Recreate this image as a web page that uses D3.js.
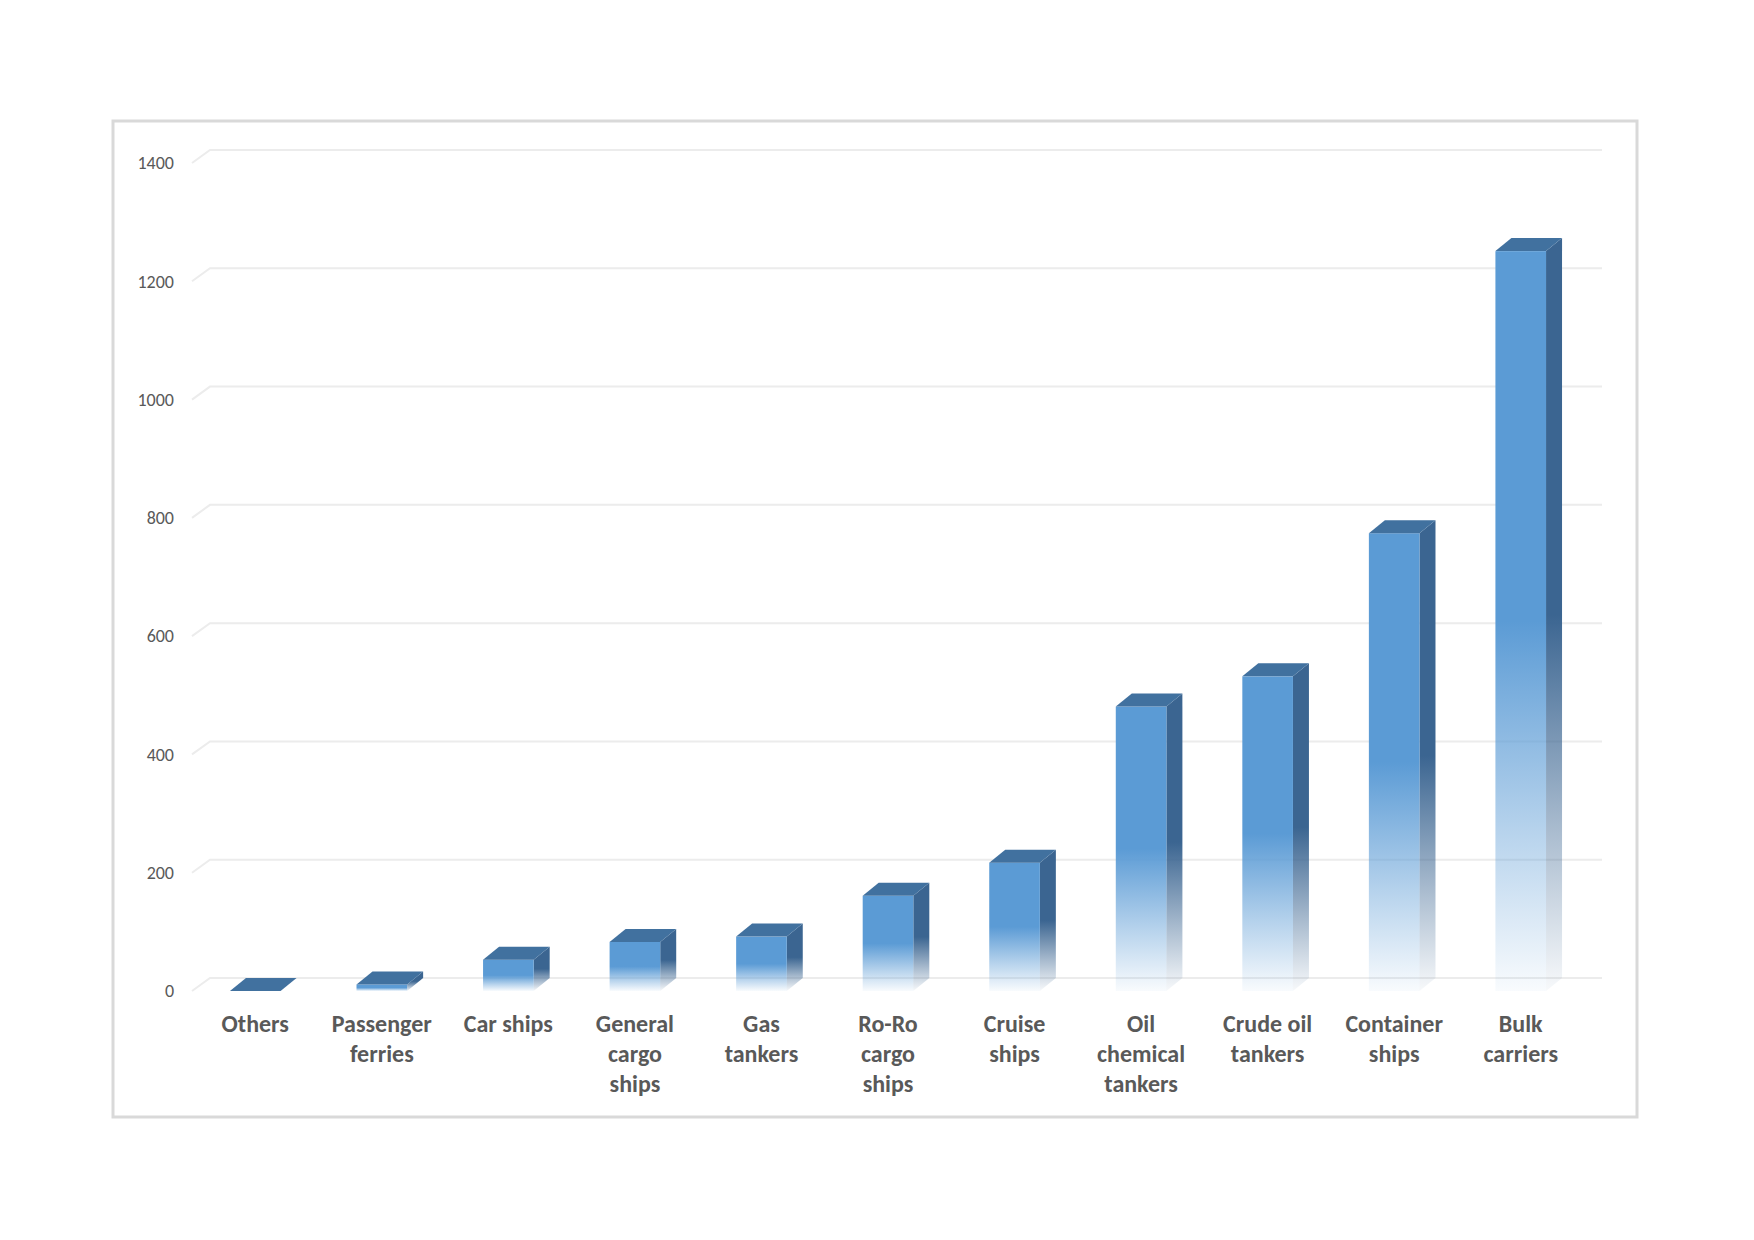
<!DOCTYPE html>
<html>
<head>
<meta charset="utf-8">
<script src="https://cdn.jsdelivr.net/npm/d3@7"></script>
<style>
  body { margin: 0; background: #fff; }
  svg text { font-family: Carlito, "Liberation Sans Narrow", "Open Sans", sans-serif; }
</style>
</head>
<body>
<div id="chart"></div>
<script>
const categories = ['Others', 'Passenger ferries', 'Car ships', 'General cargo ships', 'Gas tankers',
  'Ro-Ro cargo ships', 'Cruise ships', 'Oil chemical tankers', 'Crude oil tankers', 'Container ships', 'Bulk carriers']
const labelLines = [['Others'], ['Passenger', 'ferries'], ['Car ships'], ['General', 'cargo', 'ships'], ['Gas', 'tankers'],
  ['Ro-Ro', 'cargo', 'ships'], ['Cruise', 'ships'], ['Oil', 'chemical', 'tankers'], ['Crude oil', 'tankers'], ['Container', 'ships'], ['Bulk', 'carriers']]
const values = [0, 11, 53, 83, 92, 161, 217, 481, 532, 774, 1251]
const yTicks = [0, 200, 400, 600, 800, 1000, 1200, 1400]

const w = 1754
const h = 1240

// depth of the back wall and of the bars (pseudo 3D)
const wallDx = 18, wallDy = -13
const barDx = 16, barDy = -13

const svg = d3.select('#chart')
  .append('svg')
  .attr('width', w)
  .attr('height', h)

const defs = svg.append('defs')

const addFade = (id, color) => {
  const g = defs.append('linearGradient')
    .attr('id', id)
    .attr('x1', 0).attr('y1', 0).attr('x2', 0).attr('y2', 1)
  g.append('stop').attr('offset', '0%').attr('stop-color', color)
  g.append('stop').attr('offset', '50%').attr('stop-color', color)
  g.append('stop').attr('offset', '78%').attr('stop-color', color).attr('stop-opacity', 0.45)
  g.append('stop').attr('offset', '100%').attr('stop-color', color).attr('stop-opacity', 0.04)
}
addFade('frontFade', '#5b9bd5')
addFade('sideFade', '#3b6591')

// chart frame
svg.append('rect')
  .attr('x', 113)
  .attr('y', 121)
  .attr('width', 1524)
  .attr('height', 996)
  .attr('fill', 'none')
  .attr('stroke', '#d9d9d9')
  .attr('stroke-width', 3)

const xScale = d3.scaleBand()
  .domain(categories)
  .range([192, 1584])
  .paddingInner(0.6)
  .paddingOuter(0.3)

const yScale = d3.scaleLinear()
  .domain([0, 1400])
  .range([991, 163])

const x0 = xScale.range()[0]
const x1 = xScale.range()[1] + wallDx

// gridlines: short diagonal on the floor side and line along the back wall
svg.append('g')
  .selectAll('path')
  .data(yTicks)
  .enter()
  .append('path')
  .attr('d', (d) => {
    const y = yScale(d)
    return `M${x0},${y}L${x0 + wallDx},${y + wallDy}L${x1},${y + wallDy}`
  })
  .attr('fill', 'none')
  .attr('stroke', '#ececec')
  .attr('stroke-width', 2)

const yAxis = svg.append('g')
  .attr('id', 'y-axis')
  .attr('transform', 'translate(182,0)')
  .call(d3.axisLeft(yScale).tickValues(yTicks).tickSize(0).tickPadding(8).tickFormat(d3.format('d')))
yAxis.select('.domain').remove()
yAxis.selectAll('text')
  .attr('font-size', 18)
  .attr('fill', '#595959')
  .style('font-family', 'Carlito, "Liberation Sans Narrow", "Open Sans", sans-serif')

const bw = xScale.bandwidth()
const data = categories.map((c, i) => ({ name: c, value: values[i], lines: labelLines[i] }))

const bars = svg.append('g')
  .selectAll('g')
  .data(data)
  .enter()
  .append('g')
  .attr('class', 'bar')

// side face
bars.append('path')
  .attr('d', (d) => {
    const xl = xScale(d.name) + bw
    const yt = yScale(d.value)
    const yb = yScale(0)
    return `M${xl},${yt}L${xl + barDx},${yt + barDy}L${xl + barDx},${yb + barDy}L${xl},${yb}Z`
  })
  .attr('fill', 'url(#sideFade)')

// front face
bars.append('rect')
  .attr('x', (d) => xScale(d.name))
  .attr('y', (d) => yScale(d.value))
  .attr('width', bw)
  .attr('height', (d) => yScale(0) - yScale(d.value))
  .attr('fill', 'url(#frontFade)')

// top face
bars.append('path')
  .attr('d', (d) => {
    const xl = xScale(d.name)
    const yt = yScale(d.value)
    return `M${xl},${yt}L${xl + barDx},${yt + barDy}L${xl + bw + barDx},${yt + barDy}L${xl + bw},${yt}Z`
  })
  .attr('fill', '#41719f')

// category labels
const labels = svg.append('g')
  .attr('id', 'x-axis')
  .selectAll('text')
  .data(data)
  .enter()
  .append('text')
  .attr('x', (d) => xScale(d.name) + bw / 2)
  .attr('y', 1032)
  .attr('text-anchor', 'middle')
  .attr('font-size', 24)
  .attr('font-weight', 'bold')
  .attr('fill', '#595959')

labels.selectAll('tspan')
  .data((d) => d.lines.map((l) => ({ line: l, x: xScale(d.name) + bw / 2 })))
  .enter()
  .append('tspan')
  .attr('x', (d) => d.x)
  .attr('dy', (d, i) => i === 0 ? 0 : 30)
  .text((d) => d.line)
</script>
</body>
</html>
